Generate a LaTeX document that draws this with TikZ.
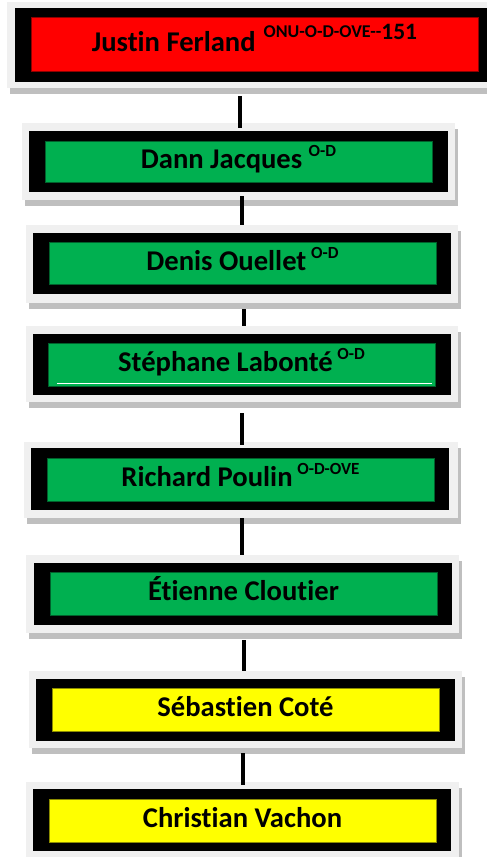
\documentclass[tikz,border=0pt]{standalone}
\usepackage{fontspec}
\setmainfont[Ligatures={TeX,NoCommon}]{Carlito}
\usetikzlibrary{shadows}
\definecolor{ogreen}{HTML}{00B050}
\definecolor{ored}{HTML}{FF0000}
\definecolor{oyellow}{HTML}{FFFF00}
\definecolor{oframe}{HTML}{F0F0F0}
\definecolor{oshadow}{HTML}{BFBFBF}
\newcommand{\supa}[1]{\smash{\raisebox{12pt}{\fontsize{17}{17}\selectfont #1}}}
\begin{document}
\begin{tikzpicture}[x=1pt,y=-1pt,
  frame/.style={rectangle, inner sep=0pt, outer sep=0pt, fill=oframe,
    drop shadow={shadow xshift=3pt, shadow yshift=-6pt, fill=oshadow, opacity=1}},
  blackbox/.style={rectangle, inner sep=0pt, outer sep=0pt, fill=black},
  cbox/.style={rectangle, inner sep=0pt, outer sep=0pt, fill=#1, draw=#1!55!black, line width=0.6pt,
    text height=20.5pt, text depth=6.5pt, font=\fontsize{28.6}{28.6}\selectfont\bfseries},
  conn/.style={line width=4pt, draw=black}]
\useasboundingbox (0,0) rectangle (487,857);

% Box 1
\node[frame, minimum width=494pt, minimum height=86pt] (f1) at (254,45) {};
\node[blackbox, minimum width=479pt, minimum height=74pt] (b1) at (254.5,45) {};
\node[cbox=ored, minimum width=447pt, minimum height=54pt] (c1) at (254.5,44)
  {Justin Ferland\hspace*{8pt}\smash{\raisebox{14pt}{\fontsize{18}{18}\selectfont ONU-O-D-OVE-{}-}}\smash{\raisebox{12pt}{\fontsize{23.5}{23.5}\selectfont 151}}};

% Box 2
\node[frame, minimum width=433pt, minimum height=77pt] (f2) at (238.5,161.5) {};
\node[blackbox, minimum width=419pt, minimum height=61pt] (b2) at (238.5,161.5) {};
\node[cbox=ogreen, minimum width=387pt, minimum height=41pt] (c2) at (238.5,161.5)
  {Dann Jacques \supa{O-D}};

% Box 3
\node[frame, minimum width=432pt, minimum height=78pt] (f3) at (242,264) {};
\node[blackbox, minimum width=418pt, minimum height=61pt] (b3) at (242,263.5) {};
\node[cbox=ogreen, minimum width=387pt, minimum height=42pt] (c3) at (242.5,263)
  {Denis Ouellet\,\supa{O-D}};

% Box 4
\node[frame, minimum width=432pt, minimum height=76pt] (f4) at (242,364) {};
\node[blackbox, minimum width=418pt, minimum height=61pt] (b4) at (242,364.5) {};
\node[cbox=ogreen, minimum width=387pt, minimum height=43pt] (c4) at (241.5,364.5)
  {Stéphane Labonté\,\supa{O-D}};
\draw[white, line width=1pt] ([xshift=9pt,yshift=2.5pt]c4.south west) -- ([xshift=-3pt,yshift=2.5pt]c4.south east);

% Box 5
\node[frame, minimum width=434pt, minimum height=76pt] (f5) at (241,480) {};
\node[blackbox, minimum width=418pt, minimum height=62pt] (b5) at (240,479) {};
\node[cbox=ogreen, minimum width=387pt, minimum height=43pt] (c5) at (240.5,479.5)
  {Richard Poulin\,\supa{O-D-OVE}};

% Box 6
\node[frame, minimum width=433pt, minimum height=78pt] (f6) at (242.5,594) {};
\node[blackbox, minimum width=418pt, minimum height=62pt] (b6) at (243,594) {};
\node[cbox=ogreen, minimum width=387pt, minimum height=43pt] (c6) at (243.5,593.5)
  {Étienne Cloutier};

% Box 7
\node[frame, minimum width=433pt, minimum height=77pt] (f7) at (245.5,709.5) {};
\node[blackbox, minimum width=419pt, minimum height=62pt] (b7) at (245.5,710) {};
\node[cbox=oyellow, minimum width=387pt, minimum height=43pt] (c7) at (245.5,709.5)
  {Sébastien Coté};

% Box 8
\node[frame, minimum width=433pt, minimum height=78pt] (f8) at (242.5,821) {};
\node[blackbox, minimum width=418pt, minimum height=62pt] (b8) at (242,820) {};
\node[cbox=oyellow, minimum width=387pt, minimum height=43pt] (c8) at (242.5,820.5)
  {Christian Vachon};

% Connectors
\draw[conn] ([yshift=-8pt]f1.south -| c2.north) ++(1.5pt,0) -- ([xshift=1.5pt,yshift=-5pt]f2.north);
\draw[conn] ([xshift=3.5pt,yshift=4pt]f2.south) -- ([xshift=3.5pt]f2.south |- f3.north);
\draw[conn] ([xshift=2pt,yshift=-6pt]f3.south) -- ([xshift=2pt]f3.south |- f4.north) ++(0,7pt);
\draw[conn] ([yshift=-11pt]f4.south -| c5.north) ++(1.5pt,0) -- ([xshift=1.5pt,yshift=-3pt]c5.north |- f5.north);
\draw[conn] ([xshift=1pt]f5.south) -- ([xshift=1pt]f5.south |- f6.north) ++(0,-5pt);
\draw[conn] ([xshift=1.5pt,yshift=-7pt]f6.south) -- ([xshift=1.5pt]f6.south |- f7.north);
\draw[conn] ([xshift=-2.5pt,yshift=-5pt]f7.south) -- ([xshift=-2.5pt,yshift=-3pt]f7.south |- f8.north);
\end{tikzpicture}
\end{document}
